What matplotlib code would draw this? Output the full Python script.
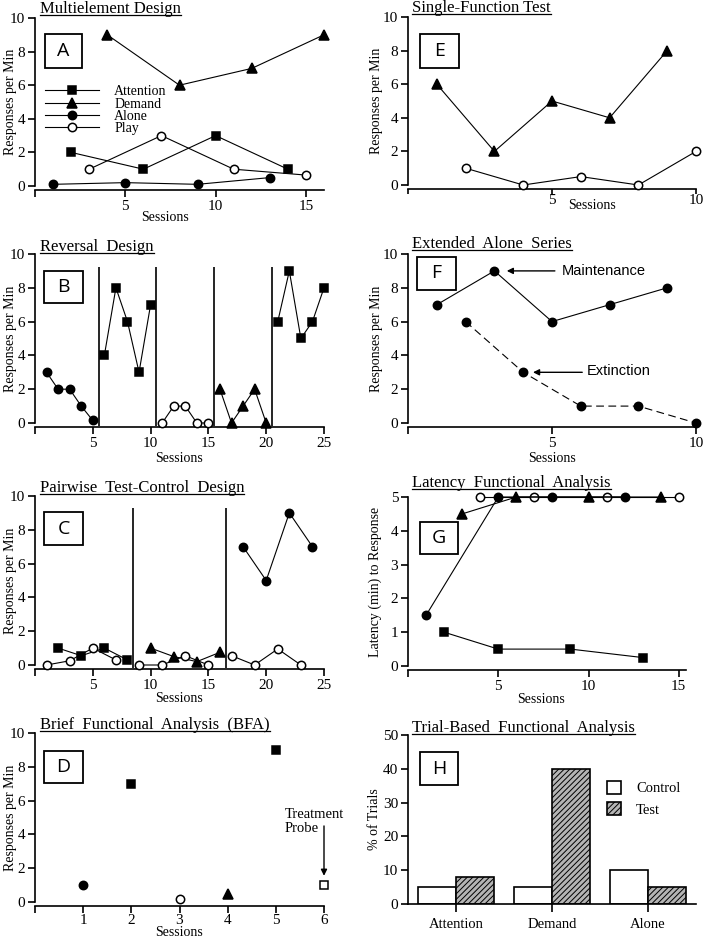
import matplotlib
matplotlib.use('Agg')
import matplotlib.pyplot as plt
from matplotlib.lines import Line2D
from matplotlib.patches import Rectangle

plt.rcParams['font.family'] = 'Liberation Serif'
plt.rcParams['hatch.linewidth'] = 0.7

# ---- data ----
# A: multielement
a_att_x, a_att_y = [2, 6, 10, 14], [2, 1, 3, 1]
a_dem_x, a_dem_y = [4, 8, 12, 16], [9, 6, 7, 9]
a_alo_x, a_alo_y = [1, 5, 9, 13], [0.1, 0.2, 0.1, 0.5]
a_play_x, a_play_y = [3, 7, 11, 15], [1, 3, 1, 0.65]

# E: single-function test
e_dem_x, e_dem_y = [1, 3, 5, 7, 9], [6, 2, 5, 4, 8]
e_play_x, e_play_y = [2, 4, 6, 8, 10], [1, 0, 0.5, 0, 2]

# B: reversal
b_alo_x, b_alo_y = [1, 2, 3, 4, 5], [3, 2, 2, 1, 0.15]
b_att1_x, b_att1_y = [6, 7, 8, 9, 10], [4, 8, 6, 3, 7]
b_play_x, b_play_y = [11, 12, 13, 14, 15], [0, 1, 1, 0, 0]
b_dem_x, b_dem_y = [16, 17, 18, 19, 20], [2, 0, 1, 2, 0]
b_att2_x, b_att2_y = [21, 22, 23, 24, 25], [6, 9, 5, 6, 8]
b_phase = [5.5, 10.5, 15.5, 20.5]

# F: extended alone
f_main_x, f_main_y = [1, 3, 5, 7, 9], [7, 9, 6, 7, 8]
f_ext_x, f_ext_y = [2, 4, 6, 8, 10], [6, 3, 1, 1, 0]

# C: pairwise
c_att_x, c_att_y = [2, 4, 6, 8], [1, 0.55, 1, 0.3]
c_play1_x, c_play1_y = [1, 3, 5, 7], [0, 0.25, 1, 0.3]
c_dem_x, c_dem_y = [10, 12, 14, 16], [1, 0.5, 0.2, 0.75]
c_play2_x, c_play2_y = [9, 11, 13, 15], [0, 0, 0.55, 0]
c_alo_x, c_alo_y = [18, 20, 22, 24], [7, 5, 9, 7]
c_play3_x, c_play3_y = [17, 19, 21, 23], [0.55, 0, 0.95, 0]
c_phase = [8.5, 16.5]

# G: latency
g_alo_x, g_alo_y = [1, 5, 8, 12], [1.5, 5, 5, 5]
g_dem_x, g_dem_y = [3, 6, 10, 14], [4.5, 5, 5, 5]
g_play_x, g_play_y = [4, 7, 11, 15], [5, 5, 5, 5]
g_att_x, g_att_y = [2, 5, 9, 13], [1, 0.5, 0.5, 0.25]

# D: brief FA
d_sessions = [1, 2, 3, 4, 5, 6]
d_values = [1, 7, 0.2, 0.5, 9, 1]
d_conditions = ['Alone', 'Attention', 'Play', 'Demand', 'Attention', 'Probe']

# H: trial-based
h_categories = ['Attention', 'Demand', 'Alone']
h_control = [5, 5, 10]
h_test = [8, 40, 5]

# ---- styles ----
sty = {
    'Attention': dict(marker='s', mfc='black', ms=6),
    'Demand': dict(marker='^', mfc='black', ms=6.5),
    'Alone': dict(marker='o', mfc='black', ms=6),
    'Play': dict(marker='o', mfc='white', ms=6),
    'Probe': dict(marker='s', mfc='white', ms=5.5),
}

W, H = 703, 938
fig = plt.figure(figsize=(W / 100, H / 100), dpi=100)


def px_axes(l, t, r, b):
    return fig.add_axes([l / W, 1 - b / H, (r - l) / W, (b - t) / H])


def style(ax, offset=3):
    for s in ['top', 'right']:
        ax.spines[s].set_visible(False)
    for s in ['left', 'bottom']:
        ax.spines[s].set_linewidth(1.2)
    ax.spines['bottom'].set_position(('outward', offset))
    ax.tick_params(direction='out', length=5, width=1.2, labelsize=11, pad=2)


def series(ax, x, y, cond, ls='-'):
    s = sty[cond]
    ax.plot(x, y, color='black', lw=0.8, ls=ls, marker=s['marker'], ms=s['ms'],
            mfc=s['mfc'], mec='black', mew=1.1, clip_on=False, zorder=3)


def ylab(ax, text, x):
    ax.set_ylabel(text, fontsize=10)
    ax.yaxis.set_label_coords(x, 0.5)
    ax.yaxis.label.set_va('center')


def labels(ax, ytext, ylx, xlx, xly):
    ylab(ax, ytext, ylx)
    ax.set_xlabel('Sessions', fontsize=10)
    ax.xaxis.set_label_coords(xlx, xly)
    ax.xaxis.label.set_va('center')


def int_ticks(ax, ticks):
    ax.set_xticks(ticks)
    ax.set_xticklabels(['' if t == 0 else str(t) for t in ticks])


titles = []


def title(text, x, y):
    t = fig.text(x / W, 1 - y / H, text, fontsize=12, ha='left', va='baseline')
    titles.append((t, y))


def letter(ch, l, t, r, b):
    fig.patches.append(Rectangle((l / W, 1 - b / H), (r - l) / W, (b - t) / H,
                                 transform=fig.transFigure, fill=False,
                                 lw=1.3, ec='black'))
    fig.text((l + r) / 2 / W, 1 - (t + b) / 2 / H, ch, family='Open Sans',
             fontsize=14, ha='center', va='center')


LX0, LX1 = 35, 324
RX0, RX1 = 408, 696

# ---- A ----
ax = px_axes(LX0, 18, LX1, 186)
style(ax)
series(ax, a_att_x, a_att_y, 'Attention')
series(ax, a_dem_x, a_dem_y, 'Demand')
series(ax, a_alo_x, a_alo_y, 'Alone')
series(ax, a_play_x, a_play_y, 'Play')
ax.set_xlim(0, 16)
ax.set_ylim(0, 10)
int_ticks(ax, [0, 5, 10, 15])
ax.set_yticks([0, 2, 4, 6, 8, 10])
labels(ax, 'Responses per Min', -0.086, 0.45, -0.185)
hands = [Line2D([], [], color='black', lw=0.8, marker=sty[c]['marker'],
                ms=sty[c]['ms'], mfc=sty[c]['mfc'], mec='black', mew=1.1)
         for c in ['Attention', 'Demand', 'Alone', 'Play']]
ax.legend(hands, ['Attention', 'Demand', 'Alone', 'Play'], loc='upper left',
          bbox_to_anchor=(0.034, 0.6), frameon=False, fontsize=10,
          handlelength=3.9, handletextpad=1.1, labelspacing=-0.05,
          borderpad=0, borderaxespad=0, numpoints=1)
title('Multielement Design', 40, 13)
letter('A', 45, 34, 82, 68)

# ---- E ----
ax = px_axes(RX0, 17, RX1, 185)
style(ax)
series(ax, e_dem_x, e_dem_y, 'Demand')
series(ax, e_play_x, e_play_y, 'Play')
ax.set_xlim(0, 10)
ax.set_ylim(0, 10)
int_ticks(ax, [0, 5, 10])
ax.tick_params(axis='x', length=3.5, pad=0)
ax.set_yticks([0, 2, 4, 6, 8, 10])
labels(ax, 'Responses per Min', -0.108, 0.64, -0.12)
title('Single-Function Test', 412, 12)
letter('E', 420, 34, 459, 68)

# ---- B ----
ax = px_axes(LX0, 254, LX1, 423)
style(ax)
series(ax, b_alo_x, b_alo_y, 'Alone')
series(ax, b_att1_x, b_att1_y, 'Attention')
series(ax, b_play_x, b_play_y, 'Play')
series(ax, b_dem_x, b_dem_y, 'Demand')
series(ax, b_att2_x, b_att2_y, 'Attention')
ax.vlines(b_phase, -0.2, 9.25, color='black', lw=1.2, clip_on=False)
ax.set_xlim(0, 25)
ax.set_ylim(0, 10)
int_ticks(ax, [0, 5, 10, 15, 20, 25])
ax.set_yticks([0, 2, 4, 6, 8, 10])
labels(ax, 'Responses per Min', -0.086, 0.5, -0.21)
title('Reversal  Design', 40, 251)
letter('B', 44, 271, 83, 303)

# ---- F ----
ax = px_axes(RX0, 254, RX1, 423)
style(ax)
series(ax, f_main_x, f_main_y, 'Alone')
series(ax, f_ext_x, f_ext_y, 'Alone', ls=(0, (7, 4)))
ax.set_xlim(0, 10)
ax.set_ylim(0, 10)
int_ticks(ax, [0, 5, 10])
ax.set_yticks([0, 2, 4, 6, 8, 10])
labels(ax, 'Responses per Min', -0.108, 0.5, -0.21)
arr = dict(arrowstyle='-|>', color='black', lw=1.0, mutation_scale=9,
           shrinkA=0, shrinkB=0)
ax.annotate('', xy=(3.43, 9), xytext=(5.1, 9), arrowprops=arr)
ax.text(5.35, 9, 'Maintenance', family='Liberation Sans', fontsize=10.5,
        ha='left', va='center')
ax.annotate('', xy=(4.34, 3), xytext=(6.05, 3), arrowprops=arr)
ax.text(6.2, 3.05, 'Extinction', family='Liberation Sans', fontsize=10.5,
        ha='left', va='center')
title('Extended  Alone  Series', 412, 248)
letter('F', 417, 257, 456, 290)

# ---- C ----
ax = px_axes(LX0, 496, LX1, 665)
style(ax)
series(ax, c_att_x, c_att_y, 'Attention')
series(ax, c_play1_x, c_play1_y, 'Play')
series(ax, c_dem_x, c_dem_y, 'Demand')
series(ax, c_play2_x, c_play2_y, 'Play')
series(ax, c_alo_x, c_alo_y, 'Alone')
series(ax, c_play3_x, c_play3_y, 'Play')
ax.vlines(c_phase, -0.2, 9.3, color='black', lw=1.2, clip_on=False)
ax.set_xlim(0, 25)
ax.set_ylim(0, 10)
int_ticks(ax, [0, 5, 10, 15, 20, 25])
ax.set_yticks([0, 2, 4, 6, 8, 10])
labels(ax, 'Responses per Min', -0.086, 0.5, -0.2)
title('Pairwise  Test-Control  Design', 40, 492)
letter('C', 44, 512, 83, 545)

# ---- G ----
ax = px_axes(RX0, 497, 686, 666)
style(ax)
series(ax, g_play_x, g_play_y, 'Play')
series(ax, g_alo_x, g_alo_y, 'Alone')
series(ax, g_dem_x, g_dem_y, 'Demand')
series(ax, g_att_x, g_att_y, 'Attention')
ax.set_xlim(0, 15.4)
ax.set_ylim(0, 5)
int_ticks(ax, [0, 5, 10, 15])
ax.set_yticks([0, 1, 2, 3, 4, 5])
labels(ax, 'Latency (min) to Response', -0.118, 0.48, -0.2)
title('Latency  Functional  Analysis', 412, 487)
letter('G', 420, 522, 458, 554)

# ---- D ----
ax = px_axes(LX0, 733, LX1, 902)
style(ax)
for x, y, c in zip(d_sessions, d_values, d_conditions):
    s = sty[c]
    ax.plot([x], [y], ls='none', marker=s['marker'], ms=s['ms'], mfc=s['mfc'],
            mec='black', mew=1.1, clip_on=False, zorder=3)
ax.set_xlim(0, 6)
ax.set_ylim(0, 10)
int_ticks(ax, [0, 1, 2, 3, 4, 5, 6])
ax.tick_params(axis='x', pad=0.5)
ax.set_yticks([0, 2, 4, 6, 8, 10])
labels(ax, 'Responses per Min', -0.086, 0.5, -0.183)
ax.annotate('', xy=(6, 1.55), xytext=(6, 4.5), arrowprops=arr)
ax.text(5.18, 4.75, 'Treatment\nProbe', fontsize=10.5, ha='left', va='center',
        linespacing=1.1)
title('Brief  Functional  Analysis  (BFA)', 40, 729)
letter('D', 44, 751, 83, 783)

# ---- H ----
ax = px_axes(RX0, 735, RX1, 904)
style(ax, offset=0)
xs = range(len(h_categories))
ax.bar([x - 0.2 for x in xs], h_control, width=0.4, color='white',
       edgecolor='black', lw=1.2, label='Control')
ax.bar([x + 0.2 for x in xs], h_test, width=0.4, color='#b4b4b4',
       edgecolor='black', lw=1.2, hatch='//////', label='Test')
ax.set_xlim(-0.5, 2.5)
ax.set_ylim(0, 50)
ax.set_xticks(list(xs))
ax.set_xticklabels(h_categories, fontsize=10.5)
ax.tick_params(axis='x', length=6, pad=4)
ax.set_yticks([0, 10, 20, 30, 40, 50])
ylab(ax, '% of Trials', -0.115)
ax.legend(loc='upper left', bbox_to_anchor=(0.69, 0.73), frameon=False,
          fontsize=10.5, handlelength=1.0, handleheight=1.05,
          handletextpad=1.0, labelspacing=0.45, borderpad=0, borderaxespad=0)
title('Trial-Based  Functional  Analysis', 412, 732)
letter('H', 420, 752, 458, 785)

# ---- underline titles ----
fig.canvas.draw()
r = fig.canvas.get_renderer()
for t, y in titles:
    bb = t.get_window_extent(r)
    yy = 1 - (y + 2) / H
    fig.lines.append(Line2D([bb.x0 / W, bb.x1 / W], [yy, yy], color='black',
                            lw=0.9, transform=fig.transFigure))

fig.savefig('out.png', dpi=100)
